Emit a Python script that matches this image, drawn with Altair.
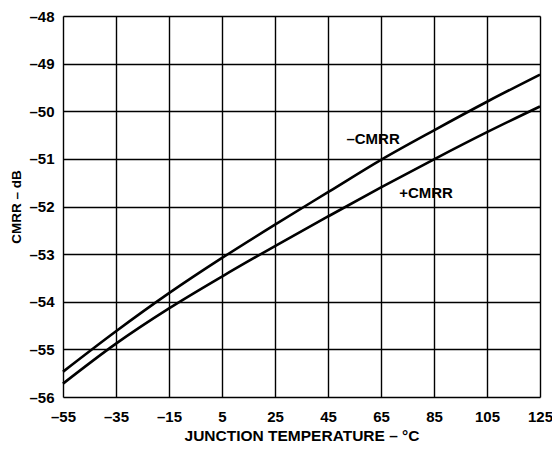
import altair as alt
import pandas as pd

temps = [-55, -35, -15, 5, 25, 45, 65, 85, 105, 125]
neg_cmrr = [-55.47, -54.62, -53.82, -53.08, -52.38, -51.70, -51.02, -50.40, -49.80, -49.23]
pos_cmrr = [-55.72, -54.88, -54.14, -53.47, -52.83, -52.21, -51.60, -51.01, -50.44, -49.90]

label_text = ["–CMRR", "+CMRR"]
label_x = [62, 82]
label_y = [-50.59, -51.72]

x_ticks = [-55, -35, -15, 5, 25, 45, 65, 85, 105, 125]
y_ticks = [-56, -55, -54, -53, -52, -51, -50, -49, -48]

rows = []
for t, v in zip(temps, neg_cmrr):
    rows.append({"T": t, "CMRR": v, "series": "neg"})
for t, v in zip(temps, pos_cmrr):
    rows.append({"T": t, "CMRR": v, "series": "pos"})
df = pd.DataFrame(rows)
lab = pd.DataFrame({"text": label_text, "T": label_x, "CMRR": label_y})

FONT = "Liberation Sans"
lbl_expr = "datum.value < 0 ? '–' + abs(datum.value) : '' + datum.value"

xs = alt.Scale(domain=[-55, 125], nice=False, zero=False)
ys = alt.Scale(domain=[-56, -48], nice=False, zero=False)

xax = alt.Axis(values=x_ticks, labelExpr=lbl_expr, title="JUNCTION TEMPERATURE – °C",
               grid=True, gridColor="black", gridWidth=1.4, gridOpacity=1,
               domain=False, ticks=False, labelPadding=12, labelFlush=False,
               labelOverlap=False,
               labelFont=FONT, labelFontSize=15, labelFontWeight="bold", labelColor="black",
               titleFont=FONT, titleFontSize=15.5, titleFontWeight="bold", titleColor="black",
               titlePadding=4)
yax = alt.Axis(values=y_ticks, labelExpr=lbl_expr, title="CMRR – dB",
               grid=True, gridColor="black", gridWidth=1.4, gridOpacity=1,
               domain=False, ticks=False, labelPadding=9, labelFlush=False,
               labelOverlap=False,
               labelFont=FONT, labelFontSize=15, labelFontWeight="bold", labelColor="black",
               titleFont=FONT, titleFontSize=13.5, titleFontWeight="bold", titleColor="black",
               titlePadding=5)

lines = alt.Chart(df).mark_line(color="black", strokeWidth=2.6, interpolate="monotone").encode(
    x=alt.X("T:Q", scale=xs, axis=xax),
    y=alt.Y("CMRR:Q", scale=ys, axis=yax),
    detail="series:N",
)

texts = alt.Chart(lab).mark_text(font=FONT, fontSize=15, fontWeight="bold", color="black").encode(
    x=alt.X("T:Q", scale=xs),
    y=alt.Y("CMRR:Q", scale=ys),
    text="text:N",
)

chart = alt.layer(lines, texts).properties(
    width=477, height=381,
    autosize=alt.AutoSizeParams(type="none"),
    padding={"left": 55, "top": 8, "right": 12, "bottom": 52},
).configure_view(stroke="black", strokeWidth=3).configure(background="white")

chart.save("out.html", embed_options={"renderer": "svg", "actions": False})
